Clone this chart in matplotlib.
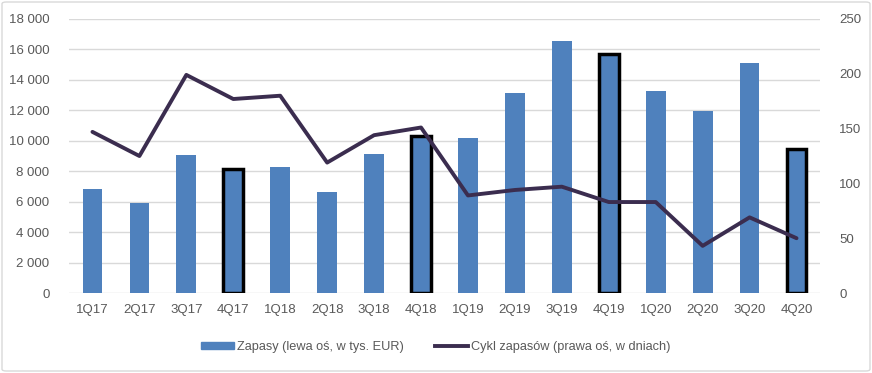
import matplotlib
matplotlib.use("Agg")
import matplotlib.pyplot as plt
from matplotlib.patches import FancyBboxPatch
from matplotlib.lines import Line2D
from matplotlib.patches import Patch

categories = ["1Q17", "2Q17", "3Q17", "4Q17", "1Q18", "2Q18", "3Q18", "4Q18",
              "1Q19", "2Q19", "3Q19", "4Q19", "1Q20", "2Q20", "3Q20", "4Q20"]
zapasy = [6830, 5930, 9070, 8130, 8280, 6620, 9130, 10320,
          10180, 13140, 16560, 15720, 13270, 11960, 15110, 9460]
cykl = [147, 125, 199, 177, 180, 119, 144, 151,
        89, 94, 97, 83, 83, 43, 69, 50]
highlight = ["4Q17", "4Q18", "4Q19", "4Q20"]
left_ticks = [0, 2000, 4000, 6000, 8000, 10000, 12000, 14000, 16000, 18000]
right_ticks = [0, 50, 100, 150, 200, 250]

plt.rcParams['font.family'] = ['Liberation Sans', 'DejaVu Sans']
txt = "#595959"
bar_color = "#4F81BD"
line_color = "#3B2D4F"

fig = plt.figure(figsize=(8.72, 3.73), dpi=100)
ax = fig.add_axes([69/872, 1-293/373, (820-69)/872, (293-19)/373])
x = list(range(len(categories)))
edges = ["black" if c in highlight else "none" for c in categories]
lws = [2.5 if c in highlight else 0 for c in categories]
ax.bar(x, zapasy, width=0.42, color=bar_color, edgecolor=edges, linewidth=lws, zorder=2)
ax.set_ylim(0, 18000)
ax.set_xlim(-0.5, len(categories) - 0.5)
ax.set_yticks(left_ticks)
ax.set_yticklabels([f"{v:,}".replace(",", " ") for v in left_ticks])
ax.set_xticks(x)
ax.set_xticklabels(categories)
ax.grid(axis="y", color="#D9D9D9", linewidth=1, zorder=0)
ax.set_axisbelow(True)
for s in ax.spines.values():
    s.set_visible(False)
ax.tick_params(length=0, colors=txt, labelsize=9.5)
ax.tick_params(axis="x", pad=8)
ax.tick_params(axis="y", pad=14)

ax2 = ax.twinx()
ax2.plot(x, cykl, color=line_color, linewidth=2.8, zorder=3, solid_capstyle="round")
ax2.set_ylim(0, 250)
ax2.set_yticks(right_ticks)
for s in ax2.spines.values():
    s.set_visible(False)
ax2.tick_params(length=0, colors=txt, labelsize=9.5, pad=14)

handles = [Patch(color=bar_color, label="Zapasy (lewa oś, w tys. EUR)"),
           Line2D([0], [0], color=line_color, linewidth=2.8, label="Cykl zapasów (prawa oś, w dniach)")]
fig.legend(handles=handles, loc="center", bbox_to_anchor=(0.5, 1-347/373), ncol=2,
           frameon=False, fontsize=9.2, labelcolor=txt, handlelength=2.6, handleheight=0.55,
           columnspacing=2.4, handletextpad=0.25)

fig.patches.append(FancyBboxPatch((2/872, 2/373), 868/872, 369/373,
                                  boxstyle="round,pad=0,rounding_size=0.005",
                                  transform=fig.transFigure, fill=False,
                                  edgecolor="#D9D9D9", linewidth=1))
fig.savefig("out.png", dpi=100)
